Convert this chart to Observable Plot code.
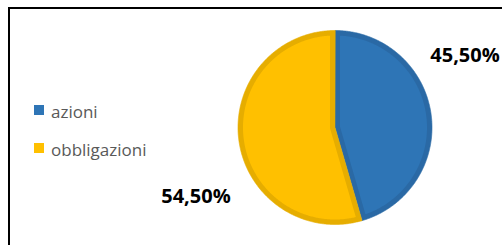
<!DOCTYPE html>
<html><head><meta charset="utf-8">
<script src="https://cdn.jsdelivr.net/npm/d3@7"></script>
<script src="https://cdn.jsdelivr.net/npm/@observablehq/plot@0.6"></script>
<style>
html,body{margin:0;padding:0;background:#fff;overflow:hidden}
#wrap{position:relative;width:502px;height:245px;overflow:hidden;background:#fff}
#frame{position:absolute;left:8px;top:7px;width:620px;height:400px;border:2px solid #000;box-sizing:border-box}
#chart{position:absolute;left:0;top:0}
.leg{position:absolute;left:51px;font-family:"Open Sans";font-size:17px;line-height:17px;color:#595959;white-space:nowrap}
.sw{position:absolute;left:34px;width:10px;height:10px}
</style></head><body>
<div id="wrap"><div id="frame"></div><div id="chart"></div><div id="legend"></div></div>
<script>
const categories = ["azioni", "obbligazioni"];
const values = [45.5, 54.5];
const labels = ["45,50%", "54,50%"];
const fills = ["#2E75B6", "#FFC000"];
const borders = ["#2A69A5", "#E6AD00"];

const W = 502, H = 245, CX = 334.5, CY = 127, R = 97;
const inset = 5 / R;

const arcs = d3.pie().sort(null).value(d => d)(values);
const pt = (r, a) => ({x: r * Math.sin(a), y: r * Math.cos(a)});
function arcPoints(r, a0, a1) {
  const n = Math.max(8, Math.ceil((a1 - a0) / 0.01));
  return d3.range(n + 1).map(i => pt(r, a0 + (a1 - a0) * i / n));
}
const marks = [];
arcs.forEach((a, i) => {
  const outer = [{x: 0, y: 0}, ...arcPoints(1, a.startAngle, a.endAngle)];
  const span = a.endAngle - a.startAngle, mid = (a.startAngle + a.endAngle) / 2;
  const ri = 1 - inset, da = Math.asin(inset / ri);
  const apex = pt(inset / Math.sin(span / 2), mid);
  const inner = [apex, ...arcPoints(ri, a.startAngle + da, a.endAngle - da)];
  marks.push(Plot.line(outer, {x: "x", y: "y", curve: "linear-closed", fill: borders[i], stroke: borders[i], strokeWidth: 0.6}));
  marks.push(Plot.line(inner, {x: "x", y: "y", curve: "linear-closed", fill: fills[i], stroke: "none"}));
});
const labelData = arcs.map((a, i) => {
  const mid = (a.startAngle + a.endAngle) / 2;
  return {...pt(1, mid), label: labels[i]};
});
marks.push(Plot.text([labelData[0]], {x: "x", y: "y", text: "label", dx: 34, dy: -58, fontSize: 20, fontWeight: "bold", fill: "#000", fontFamily: "Open Sans"}));
marks.push(Plot.text([labelData[1]], {x: "x", y: "y", text: "label", dx: -43, dy: 55, fontSize: 20, fontWeight: "bold", fill: "#000", fontFamily: "Open Sans"}));

const chart = Plot.plot({
  width: W, height: H,
  marginLeft: CX - R, marginRight: W - (CX + R),
  marginTop: CY - R, marginBottom: H - (CY + R),
  x: {domain: [-1, 1], axis: null},
  y: {domain: [-1, 1], axis: null},
  style: {background: "transparent", fontFamily: "Open Sans", overflow: "visible"},
  marks
});
document.getElementById("chart").appendChild(chart);

const legend = document.getElementById("legend");
const legTops = [103, 141];
categories.forEach((c, i) => {
  const sw = document.createElement("div");
  sw.className = "sw"; sw.style.top = (legTops[i] + 2) + "px"; sw.style.background = fills[i];
  legend.appendChild(sw);
  const t = document.createElement("div");
  t.className = "leg"; t.style.top = legTops[i] + "px"; t.textContent = c;
  legend.appendChild(t);
});
</script>
</body></html>
